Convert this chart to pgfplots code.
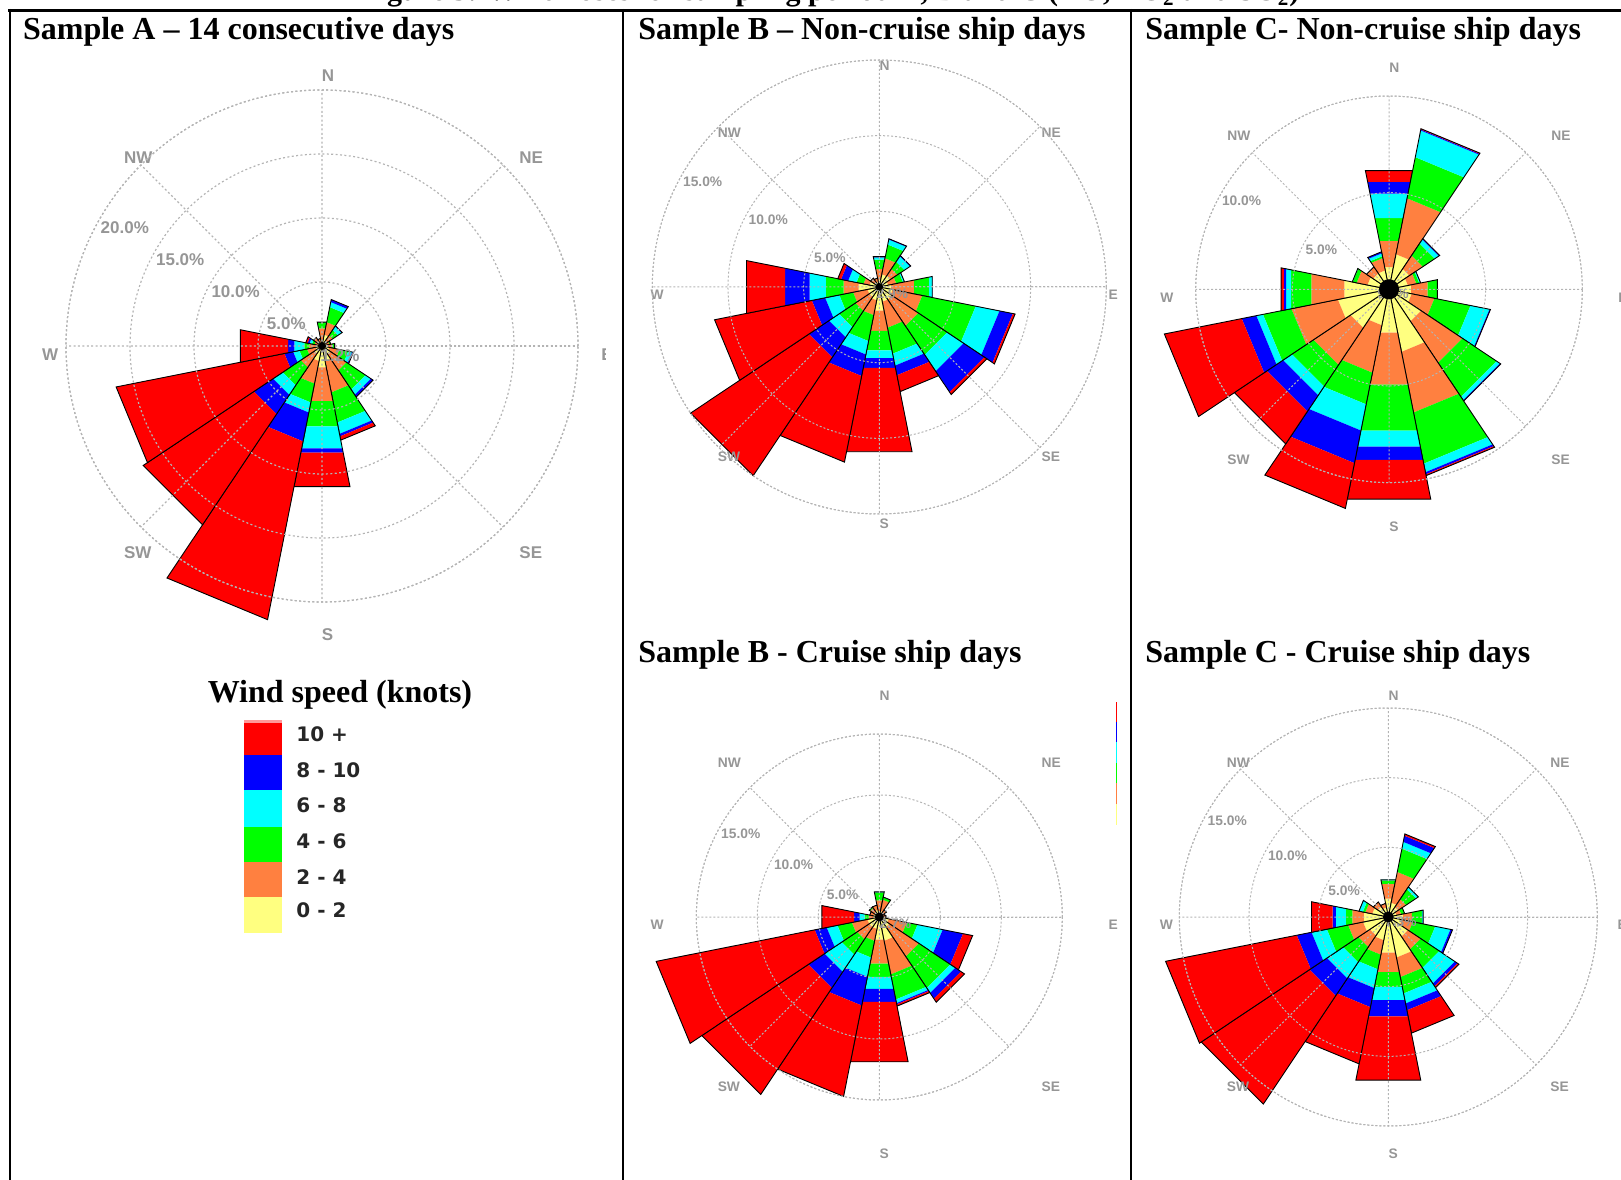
\documentclass[border=0pt]{standalone}
\usepackage{fontspec}
\setmainfont{Liberation Serif}
\newfontfamily\lsans{Liberation Sans}
\newfontfamily\dvsans{DejaVu Sans}
\usepackage{pgfplots}
\pgfplotsset{compat=1.18}
\usepgfplotslibrary{polar}

\definecolor{wsR}{HTML}{FF0000}
\definecolor{wsB}{HTML}{0000FF}
\definecolor{wsC}{HTML}{00FFFF}
\definecolor{wsG}{HTML}{00FF00}
\definecolor{wsO}{HTML}{FF8040}
\definecolor{wsY}{HTML}{FFFF80}
\definecolor{gridgray}{RGB}{180,180,180}
\definecolor{labgray}{RGB}{150,150,150}

\newcommand\wrlw{0.45pt}
% #1 = centre angle (math degrees), #2..#7 = cumulative ends (percent) of 0-2, 2-4, 4-6, 6-8, 8-10, 10+
\newcommand\wrsector[7]{%
  \pgfmathsetmacro\aL{#1-11.25}%
  \pgfmathsetmacro\aR{#1+11.25}%
  \addplot[fill=wsY,draw=none] coordinates {(\aL,0) (\aL,#2) (\aR,#2) (\aR,0)} --cycle;
  \addplot[fill=wsO,draw=none] coordinates {(\aL,#2) (\aL,#3) (\aR,#3) (\aR,#2)} --cycle;
  \addplot[fill=wsG,draw=none] coordinates {(\aL,#3) (\aL,#4) (\aR,#4) (\aR,#3)} --cycle;
  \addplot[fill=wsC,draw=none] coordinates {(\aL,#4) (\aL,#5) (\aR,#5) (\aR,#4)} --cycle;
  \addplot[fill=wsB,draw=none] coordinates {(\aL,#5) (\aL,#6) (\aR,#6) (\aR,#5)} --cycle;
  \addplot[fill=wsR,draw=none] coordinates {(\aL,#6) (\aL,#7) (\aR,#7) (\aR,#6)} --cycle;
  \addplot[draw=black,line width=\wrlw,fill=none] coordinates {(\aL,0) (\aL,#7) (\aR,#7) (\aR,0)} --cycle;
}
% direction labels (left-anchored): #1 radius, #2 font, #3 xshift, #4 yshift
\newcommand\dirlabels[4]{%
  \node[anchor=west,text=labgray,inner sep=0pt,font=#2,xshift=#3,yshift=#4] at (axis cs:90,#1) {N};
  \node[anchor=west,text=labgray,inner sep=0pt,font=#2,xshift=#3,yshift=#4] at (axis cs:45,#1) {NE};
  \node[anchor=west,text=labgray,inner sep=0pt,font=#2,xshift=#3,yshift=#4] at (axis cs:0,#1) {E};
  \node[anchor=west,text=labgray,inner sep=0pt,font=#2,xshift=#3,yshift=#4] at (axis cs:315,#1) {SE};
  \node[anchor=west,text=labgray,inner sep=0pt,font=#2,xshift=#3,yshift=#4] at (axis cs:270,#1) {S};
  \node[anchor=west,text=labgray,inner sep=0pt,font=#2,xshift=#3,yshift=#4] at (axis cs:225,#1) {SW};
  \node[anchor=west,text=labgray,inner sep=0pt,font=#2,xshift=#3,yshift=#4] at (axis cs:180,#1) {W};
  \node[anchor=west,text=labgray,inner sep=0pt,font=#2,xshift=#3,yshift=#4] at (axis cs:135,#1) {NW};
}
\newcommand\ringlab[3]{%
  \node[anchor=north west,inner sep=0pt,text=labgray,font=#3,yshift=-1.5pt] at (axis cs:150,#1) {#2};
}
\newcommand\smallfont{\lsans\bfseries\fontsize{6.9}{7}\selectfont}
\newcommand\bigfont{\lsans\bfseries\fontsize{8.5}{9}\selectfont}

\pgfplotsset{
  rose/.style={
    scale only axis, anchor=center, clip=false,
    xmin=0, xmax=360, ymin=0,
    xtick={0,45,...,315},
    xticklabels={,,,,,,,,}, yticklabels={,,,,,},
    xticklabel style={opacity=0}, yticklabel style={opacity=0},
    grid=major,
    major grid style={draw=gridgray, line width=0.5pt, dash pattern=on 1pt off 1pt},
    axis line style={draw=gridgray, line width=0.5pt, dash pattern=on 1pt off 1pt},
    major tick length=0pt,
    axis on top,
  },
}

\begin{document}
\begin{tikzpicture}

% ---------------- Sample A ----------------
\begin{scope}
\clip (0pt,0pt) rectangle (302.75pt,589.5pt);
\begin{polaraxis}[rose, at={(161pt,416.5pt)}, width=256pt, height=256pt,
  ymax=20, ytick={5,10,15,20},
  major grid style={draw=gridgray, line width=0.6pt, dash pattern=on 1pt off 1.2pt},
  axis line style={draw=gridgray, line width=0.6pt, dash pattern=on 1pt off 1.2pt}]
\wrsector{90}{0.5}{1.4}{1.9}{1.9}{1.9}{1.9}
\wrsector{67.5}{0.9}{1.9}{3.1}{3.5}{3.7}{3.7}
\wrsector{45}{0.5}{1.0}{1.5}{1.85}{1.9}{1.9}
\wrsector{22.5}{0.4}{0.6}{0.7}{0.7}{0.7}{0.7}
\wrsector{0}{0.4}{0.8}{1.0}{1.0}{1.0}{1.0}
\wrsector{337.5}{0.6}{1.4}{2.1}{2.4}{2.5}{2.5}
\wrsector{315}{0.8}{2.3}{4.1}{4.6}{4.8}{4.8}
\wrsector{292.5}{1.2}{3.7}{6.1}{7.0}{7.2}{7.5}
\wrsector{270}{1.7}{4.4}{6.4}{8.15}{8.5}{11.2}
\wrsector{247.5}{1.2}{3.0}{4.5}{5.3}{7.6}{21.8}
\wrsector{225}{0.7}{2.0}{3.7}{4.6}{6.4}{16.8}
\wrsector{202.5}{0.5}{1.2}{1.8}{2.3}{3.0}{16.4}
\wrsector{180}{0.5}{1.0}{1.4}{2.2}{2.7}{6.5}
\wrsector{157.5}{0.3}{0.6}{0.8}{1.0}{1.15}{1.3}
\wrsector{135}{0.4}{0.8}{0.8}{0.8}{0.8}{0.8}
\wrsector{112.5}{0.3}{0.6}{0.6}{0.6}{0.6}{0.6}
\addplot[only marks, mark=*, mark size=1.5pt, black] coordinates {(0,0)};
\dirlabels{21.84}{\bigfont}{-0.3pt}{-4.5pt}
\ringlab{5}{5.0\%}{\bigfont}
\ringlab{10}{10.0\%}{\bigfont}
\ringlab{15}{15.0\%}{\bigfont}
\ringlab{20}{20.0\%}{\bigfont}
\node[text=labgray,inner sep=0pt,font=\bigfont,xshift=9pt,yshift=-5pt] at (axis cs:0,0) {1.2\%};
\end{polaraxis}
\end{scope}

% ---------------- Sample B non-cruise ----------------
\begin{polaraxis}[rose, at={(439.65pt,446pt)}, width=227pt, height=227pt,
  ymax=15, ytick={5,10,15}]
\wrsector{90}{0.5}{1.2}{1.85}{2.0}{2.05}{2.05}
\wrsector{67.5}{0.86}{1.94}{2.86}{3.2}{3.25}{3.25}
\wrsector{45}{0.9}{1.45}{2.0}{2.45}{2.5}{2.5}
\wrsector{22.5}{0.6}{1.15}{1.6}{1.7}{1.7}{1.7}
\wrsector{0}{0.8}{2.35}{3.35}{3.57}{3.57}{3.57}
\wrsector{337.5}{0.9}{2.9}{6.5}{8.1}{9.0}{9.15}
\wrsector{315}{1.0}{3.1}{5.4}{6.7}{8.35}{8.55}
\wrsector{292.5}{1.0}{2.75}{4.5}{5.3}{5.95}{7.05}
\wrsector{270}{1.6}{2.95}{4.27}{4.8}{5.45}{11.1}
\wrsector{247.5}{0.9}{1.9}{3.65}{4.55}{6.0}{11.8}
\wrsector{225}{0.8}{1.9}{3.2}{4.0}{5.6}{15.0}
\wrsector{202.5}{0.8}{1.77}{2.7}{3.65}{4.55}{11.1}
\wrsector{180}{1.4}{2.4}{3.6}{4.7}{6.35}{8.95}
\wrsector{157.5}{0.66}{1.07}{1.54}{2.1}{2.58}{2.8}
\wrsector{135}{0.4}{0.7}{0.7}{0.7}{0.7}{0.7}
\wrsector{112.5}{0.35}{0.6}{0.6}{0.6}{0.6}{0.6}
\addplot[only marks, mark=*, mark size=1.5pt, black] coordinates {(0,0)};
\dirlabels{15.13}{\smallfont}{0pt}{-4pt}
\ringlab{5}{5.0\%}{\smallfont}
\ringlab{10}{10.0\%}{\smallfont}
\ringlab{15}{15.0\%}{\smallfont}
\node[text=labgray,inner sep=0pt,font=\smallfont,xshift=6.5pt,yshift=-3.5pt] at (axis cs:0,0) {2.9\%};
\end{polaraxis}

% ---------------- Sample B cruise ----------------
\begin{polaraxis}[rose, at={(439.65pt,131pt)}, width=183pt, height=183pt,
  ymax=15, ytick={5,10,15}]
\wrsector{90}{0.5}{1.4}{2.05}{2.08}{2.1}{2.1}
\wrsector{67.5}{0.5}{1.45}{1.67}{1.67}{1.67}{1.67}
\wrsector{45}{0.4}{0.7}{0.7}{0.7}{0.7}{0.7}
\wrsector{22.5}{0.3}{0.5}{0.5}{0.5}{0.5}{0.5}
\wrsector{0}{0.3}{0.55}{0.55}{0.55}{0.55}{0.55}
\wrsector{337.5}{0.8}{2.3}{3.2}{5.3}{7.0}{7.8}
\wrsector{315}{1.0}{3.9}{7.0}{7.5}{8.05}{8.4}
\wrsector{292.5}{2.0}{4.8}{6.9}{7.2}{7.3}{7.45}
\wrsector{270}{1.9}{3.9}{5.0}{6.0}{7.1}{12.1}
\wrsector{247.5}{1.0}{2.0}{3.4}{5.0}{7.4}{15.0}
\wrsector{225}{1.0}{2.2}{3.7}{5.4}{7.0}{17.5}
\wrsector{202.5}{1.0}{2.3}{3.5}{4.4}{5.4}{18.65}
\wrsector{180}{0.5}{0.9}{1.23}{1.64}{2.1}{4.8}
\wrsector{157.5}{0.5}{0.8}{0.8}{0.8}{0.8}{0.8}
\wrsector{135}{0.5}{0.9}{1.0}{1.0}{1.0}{1.0}
\wrsector{112.5}{0.6}{1.0}{1.0}{1.0}{1.0}{1.0}
\addplot[only marks, mark=*, mark size=2pt, black] coordinates {(0,0)};
\dirlabels{18.77}{\smallfont}{0pt}{-4pt}
\ringlab{5}{5.0\%}{\smallfont}
\ringlab{10}{10.0\%}{\smallfont}
\ringlab{15}{15.0\%}{\smallfont}
\node[text=labgray,inner sep=0pt,font=\smallfont,xshift=8pt,yshift=-3.5pt] at (axis cs:0,0) {2.7\%};
\end{polaraxis}

% ---------------- Sample C non-cruise ----------------
\begin{polaraxis}[rose, at={(694.5pt,444.85pt)}, width=193.3pt, height=193.3pt,
  ymax=10, ytick={5,10}]
\wrsector{90}{1.17}{2.55}{3.76}{5.05}{5.66}{6.26}
\wrsector{67.5}{1.85}{4.8}{6.97}{8.38}{8.43}{8.47}
\wrsector{45}{1.27}{2.1}{2.85}{3.1}{3.15}{3.15}
\wrsector{22.5}{1.0}{1.45}{1.6}{1.67}{1.67}{1.67}
\wrsector{0}{1.17}{2.03}{2.55}{2.55}{2.55}{2.55}
\wrsector{337.5}{1.2}{2.4}{4.3}{5.3}{5.35}{5.35}
\wrsector{315}{2.0}{4.57}{6.7}{6.9}{6.95}{6.95}
\wrsector{292.5}{3.3}{6.5}{9.2}{9.65}{9.76}{9.83}
\wrsector{270}{2.28}{5.03}{7.45}{8.3}{9.0}{11.07}
\wrsector{247.5}{1.9}{4.4}{6.07}{7.45}{9.17}{11.56}
\wrsector{225}{2.4}{4.7}{6.05}{6.6}{7.6}{9.62}
\wrsector{202.5}{2.7}{5.15}{6.65}{7.0}{7.77}{11.85}
\wrsector{180}{2.36}{4.09}{5.16}{5.43}{5.55}{5.69}
\wrsector{157.5}{1.14}{1.71}{1.92}{1.94}{1.94}{1.94}
\wrsector{135}{1.0}{1.4}{1.4}{1.4}{1.4}{1.4}
\wrsector{112.5}{1.0}{1.65}{1.75}{1.9}{1.98}{1.98}
\addplot[only marks, mark=*, mark size=4.8pt, black] coordinates {(0,0)};
\dirlabels{11.85}{\smallfont}{0pt}{-4pt}
\ringlab{5}{5.0\%}{\smallfont}
\ringlab{10}{10.0\%}{\smallfont}
\node[text=labgray,inner sep=0pt,font=\smallfont,xshift=2pt,yshift=-2pt] at (axis cs:0,0) {9.8\%};
\end{polaraxis}

% ---------------- Sample C cruise ----------------
\begin{polaraxis}[rose, at={(694.15pt,131pt)}, width=209pt, height=209pt,
  ymax=15, ytick={5,10,15}]
\wrsector{90}{1.34}{2.42}{2.68}{2.73}{2.73}{2.73}
\wrsector{67.5}{1.05}{3.3}{5.0}{5.5}{5.95}{6.08}
\wrsector{45}{0.86}{1.54}{2.4}{2.6}{2.6}{2.6}
\wrsector{22.5}{0.6}{0.95}{1.2}{1.2}{1.2}{1.2}
\wrsector{0}{1.08}{1.72}{2.45}{2.55}{2.55}{2.55}
\wrsector{337.5}{1.0}{1.8}{3.44}{4.55}{4.7}{4.7}
\wrsector{315}{1.7}{2.8}{4.4}{5.75}{5.98}{6.1}
\wrsector{292.5}{2.97}{4.4}{5.6}{6.33}{6.83}{8.5}
\wrsector{270}{2.6}{4.04}{5.12}{6.08}{7.27}{11.94}
\wrsector{247.5}{1.7}{2.76}{3.83}{5.2}{6.6}{10.75}
\wrsector{225}{1.6}{2.6}{3.9}{5.3}{6.8}{16.15}
\wrsector{202.5}{1.85}{2.95}{4.5}{5.62}{6.7}{16.3}
\wrsector{180}{1.79}{2.63}{3.11}{3.83}{4.07}{5.62}
\wrsector{157.5}{1.18}{1.69}{1.87}{2.15}{2.15}{2.15}
\wrsector{135}{0.9}{1.3}{1.3}{1.3}{1.3}{1.3}
\wrsector{112.5}{0.7}{1.0}{1.0}{1.0}{1.0}{1.0}
\addplot[only marks, mark=*, mark size=2.5pt, black] coordinates {(0,0)};
\dirlabels{16.42}{\smallfont}{0pt}{-4pt}
\ringlab{5}{5.0\%}{\smallfont}
\ringlab{10}{10.0\%}{\smallfont}
\ringlab{15}{15.0\%}{\smallfont}
\node[text=labgray,inner sep=0pt,font=\smallfont,xshift=6.25pt,yshift=-2.5pt] at (axis cs:0,0) {7.3\%};
\end{polaraxis}

% ---------------- frame, titles, legend ----------------
\draw[line width=1.5pt] (4pt,584.35pt) -- (812pt,584.35pt);
\draw[line width=1pt] (5.15pt,585pt) -- (5.15pt,-2pt);
\draw[line width=1pt] (311.5pt,585pt) -- (311.5pt,-2pt);
\draw[line width=1pt] (565.5pt,585pt) -- (565.5pt,-2pt);

\node[anchor=base,font=\bfseries\fontsize{15}{17}\selectfont,inner sep=0pt] at (415pt,589pt)
  {Figure 3: Wind roses for sampling period A, B and C (NO, NO\textsubscript{2} and SO\textsubscript{2})};

\node[anchor=base west,font=\bfseries\fontsize{16}{18}\selectfont,inner sep=0pt] at (11.35pt,569.5pt) {Sample A – 14 consecutive days};
\node[anchor=base west,font=\bfseries\fontsize{16}{18}\selectfont,inner sep=0pt] at (319pt,569.5pt) {Sample B – Non-cruise ship days};
\node[anchor=base west,font=\bfseries\fontsize{16}{18}\selectfont,inner sep=0pt] at (572.5pt,569.5pt) {Sample C- Non-cruise ship days};
\node[anchor=base west,font=\bfseries\fontsize{16}{18}\selectfont,inner sep=0pt] at (319pt,258.2pt) {Sample B - Cruise ship days};
\node[anchor=base west,font=\bfseries\fontsize{16}{18}\selectfont,inner sep=0pt] at (572.5pt,258.2pt) {Sample C - Cruise ship days};

\node[anchor=base,font=\bfseries\fontsize{16}{18}\selectfont,inner sep=0pt] at (170pt,238.5pt) {Wind speed (knots)};
\fill[red!40] (122pt,229.5pt) rectangle (141pt,227.85pt);
\fill[wsR] (122pt,227.85pt) rectangle (141pt,212pt);
\fill[wsB] (122pt,212pt) rectangle (141pt,194.5pt);
\fill[wsC] (122pt,194.5pt) rectangle (141pt,176.15pt);
\fill[wsG] (122pt,176.15pt) rectangle (141pt,158.65pt);
\fill[wsO] (122pt,158.65pt) rectangle (141pt,141.15pt);
\fill[wsY] (122pt,141.15pt) rectangle (141pt,122.85pt);
\begin{scope}[every node/.style={anchor=west,inner sep=0pt,font=\dvsans\bfseries\fontsize{10}{12}\selectfont,text=black!85}]
\node at (148pt,222.5pt) {10 +};
\node at (148pt,204.5pt) {8 - 10};
\node at (148pt,186.65pt) {6 - 8};
\node at (148pt,169pt) {4 - 6};
\node at (148pt,151.15pt) {2 - 4};
\node at (148pt,134.15pt) {0 - 2};
\end{scope}

% thin colour strip (legend remnant)
\fill[wsR] (558.1pt,238.65pt) rectangle (558.6pt,228.65pt);
\fill[wsB] (558.1pt,228.65pt) rectangle (558.6pt,218.65pt);
\fill[wsC] (558.1pt,218.65pt) rectangle (558.6pt,207.85pt);
\fill[wsG] (558.1pt,207.85pt) rectangle (558.6pt,197.85pt);
\fill[wsO] (558.1pt,197.85pt) rectangle (558.6pt,187.5pt);
\fill[wsY] (558.1pt,187.5pt) rectangle (558.6pt,177pt);

\pgfresetboundingbox
\useasboundingbox (0pt,0pt) rectangle (810.5pt,589.5pt);
\end{tikzpicture}
\end{document}
